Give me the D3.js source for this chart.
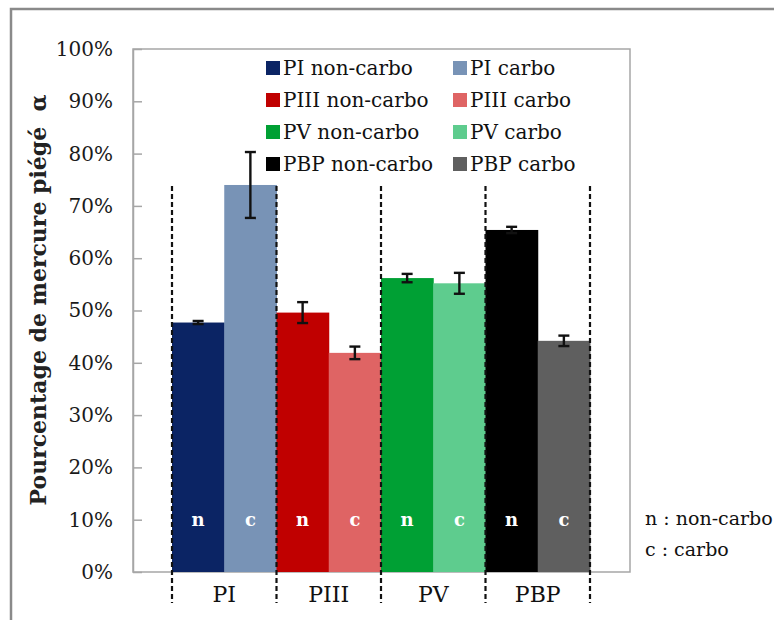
<!DOCTYPE html>
<html><head><meta charset="utf-8">
<script src="https://cdn.jsdelivr.net/npm/d3@7"></script>
<style>body{margin:0;background:#fff}svg{display:block}</style></head>
<body><svg id="c" width="774" height="620"></svg>
<script>
const categories = ["PI", "PIII", "PV", "PBP"];
const seriesKeys = ["non-carbo", "carbo"];
const nonCarbo = [47.7, 49.6, 56.2, 65.4];
const carbo = [74.0, 41.9, 55.2, 44.2];
const nonCarboErr = [0.3, 2.0, 0.8, 0.6];
const carboErr = [6.3, 1.2, 2.0, 1.0];
const nonCarboColors = ["#0b2464", "#c00000", "#00a034", "#000000"];
const carboColors = ["#7893b6", "#df6464", "#5ecc8e", "#5f5f5f"];
const yTicks = [0, 10, 20, 30, 40, 50, 60, 70, 80, 90, 100];
const barLetters = ["n", "c"];
const yTitle = "Pourcentage de mercure piégé\u00a0 α";
const noteLines = ["n : non-carbo", "c : carbo"];

const FONT = "'DejaVu Serif', 'Liberation Serif', serif";
const svg = d3.select("#c");
svg.append("rect").attr("width", 774).attr("height", 620).attr("fill", "#fff");

// outer frame
svg.append("path").attr("d", "M11,620V9H774").attr("fill", "none")
  .attr("stroke", "#8a8a8a").attr("stroke-width", 2.5);

const plot = {l: 133, r: 630, t: 49, b: 572};
const y = d3.scaleLinear().domain([0, 100]).range([plot.b, plot.t]);
const x = d3.scaleBand().domain(categories).range([172, 590]).padding(0);
const xs = d3.scaleBand().domain(seriesKeys).range([0, x.bandwidth()]).padding(0);

// plot frame
svg.append("rect").attr("x", plot.l).attr("y", plot.t)
  .attr("width", plot.r - plot.l).attr("height", plot.b - plot.t)
  .attr("fill", "none").attr("stroke", "#a6a6a6").attr("stroke-width", 1.5);

// y axis
const yAxis = svg.append("g").attr("transform", `translate(${plot.l},0)`)
  .call(d3.axisLeft(y).tickValues(yTicks).tickFormat(d => d + "%")
    .tickSizeInner(-9).tickSizeOuter(0).tickPadding(20));
yAxis.select(".domain").attr("stroke", "#a6a6a6").attr("stroke-width", 1.5);
yAxis.selectAll(".tick line").attr("stroke", "#a6a6a6").attr("stroke-width", 1.5);
yAxis.selectAll(".tick text").attr("font-family", FONT).attr("font-size", 20)
  .attr("fill", "#1a1a1a");

// data rows
const rows = categories.map((c, i) => [
  {cat: c, key: "non-carbo", v: nonCarbo[i], e: nonCarboErr[i], col: nonCarboColors[i], letter: barLetters[0]},
  {cat: c, key: "carbo", v: carbo[i], e: carboErr[i], col: carboColors[i], letter: barLetters[1]}
]).flat();

const bars = svg.append("g");
bars.selectAll("rect").data(rows).join("rect")
  .attr("x", d => x(d.cat) + xs(d.key))
  .attr("width", xs.bandwidth() + 0.5)
  .attr("y", d => y(d.v))
  .attr("height", d => y(0) - y(d.v))
  .attr("fill", d => d.col);

// bar letters
bars.selectAll("text").data(rows).join("text")
  .attr("x", d => x(d.cat) + xs(d.key) + xs.bandwidth() / 2)
  .attr("y", y(10))
  .attr("dy", "0.35em")
  .attr("text-anchor", "middle")
  .attr("font-family", FONT).attr("font-weight", "bold").attr("font-size", 18)
  .attr("fill", "#fff")
  .text(d => d.letter);

// error bars
const eb = svg.append("g").attr("stroke", "#111").attr("stroke-width", 2.4);
rows.forEach(d => {
  const cx = x(d.cat) + xs(d.key) + xs.bandwidth() / 2;
  const y1 = y(d.v + d.e), y2 = y(d.v - d.e);
  eb.append("line").attr("x1", cx).attr("x2", cx).attr("y1", y1).attr("y2", y2);
  eb.append("line").attr("x1", cx - 5.5).attr("x2", cx + 5.5).attr("y1", y1).attr("y2", y1);
  eb.append("line").attr("x1", cx - 5.5).attr("x2", cx + 5.5).attr("y1", y2).attr("y2", y2);
});

// dashed separators
const seps = categories.map(c => x(c)).concat([x(categories[categories.length - 1]) + x.bandwidth()]);
svg.append("g").selectAll("line").data(seps).join("line")
  .attr("x1", d => d).attr("x2", d => d)
  .attr("y1", 186).attr("y2", 603)
  .attr("stroke", "#111").attr("stroke-width", 2.2)
  .attr("stroke-dasharray", "5,3");

// x axis labels
const xAxis = svg.append("g").attr("transform", `translate(0,${plot.b})`)
  .call(d3.axisBottom(x).tickSize(0).tickPadding(14));
xAxis.select(".domain").remove();
xAxis.selectAll(".tick text").attr("font-family", FONT).attr("font-size", 22)
  .attr("fill", "#111");

// legend
const legend = svg.append("g");
const legRowY = [68, 100, 132, 164];
const legColX = [266, 453];
categories.forEach((c, i) => {
  [[nonCarboColors[i], c + " non-carbo"], [carboColors[i], c + " carbo"]].forEach((it, j) => {
    const g = legend.append("g").attr("transform", `translate(${legColX[j]},${legRowY[i]})`);
    g.append("rect").attr("x", 0).attr("y", -7).attr("width", 14).attr("height", 14).attr("fill", it[0]);
    g.append("text").attr("x", 17).attr("dy", "0.36em")
      .attr("font-family", FONT).attr("font-size", 20).attr("fill", "#111").text(it[1]);
  });
});

// y title
svg.append("text").attr("transform", "translate(38,300) rotate(-90)")
  .attr("text-anchor", "middle").attr("dy", "0.35em")
  .attr("font-family", FONT).attr("font-weight", "bold").attr("font-size", 22)
  .attr("fill", "#222").text(yTitle);

// note
svg.append("g").selectAll("text").data(noteLines).join("text")
  .attr("x", 645).attr("y", (d, i) => 518 + i * 31).attr("dy", "0.35em")
  .attr("font-family", FONT).attr("font-size", 19).attr("fill", "#111")
  .text(d => d);
</script></body></html>
